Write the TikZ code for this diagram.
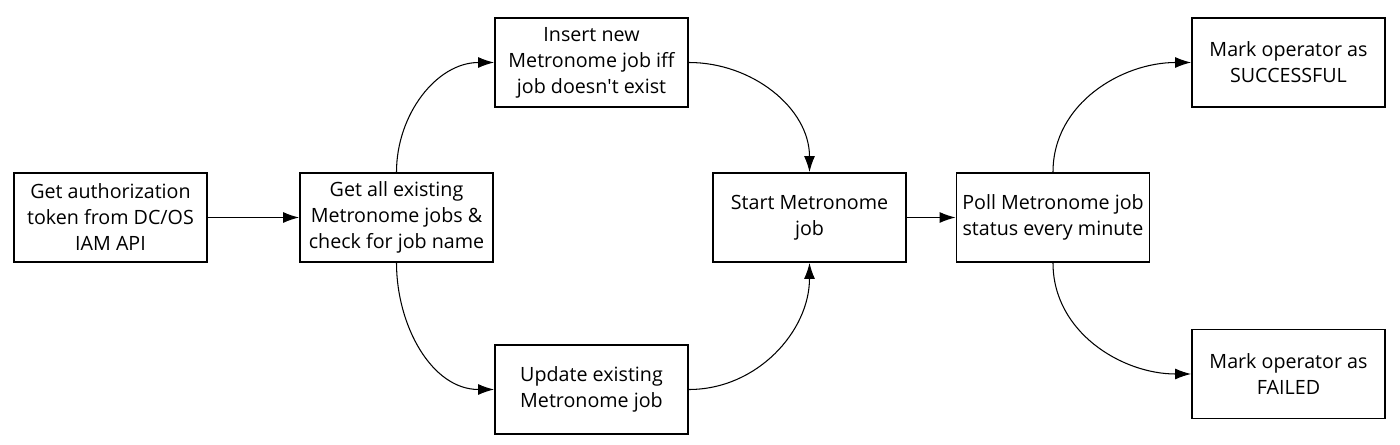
\documentclass[tikz,border=0pt]{standalone}
\usepackage{fontspec}
\setmainfont{Open Sans}
\usetikzlibrary{arrows.meta}

\begin{document}
\begin{tikzpicture}[x=0.02cm, y=-0.02cm, line width=1.1pt,
	stepbox/.style={draw, rectangle, minimum width=3.86cm, minimum height=1.78cm,
		align=center, inner sep=2pt, font=\fontsize{11.2}{14.8}\selectfont},
	flow/.style={line width=0.6pt, -{Latex[length=3.2mm, width=2.2mm]}}]

	\useasboundingbox (0,0) rectangle (1400,445);

	\node[stepbox] (token)  at ( 110.5, 217.5) {Get authorization\\token from DC/OS\\IAM API};
	\node[stepbox] (jobs)   at ( 396.5, 217.5) {Get all existing\\Metronome jobs \&\\check for job name};
	\node[stepbox] (insert) at ( 591.5,  62.5) {Insert new\\Metronome job iff\\job doesn\textquotesingle t exist};
	\node[stepbox] (update) at ( 591.5, 389.5) {Update existing\\Metronome job};
	\node[stepbox] (start)  at ( 809.5, 217.5) {Start Metronome\\job};
	\node[stepbox] (poll)   at (1053.0, 217.5) {Poll Metronome job\\status every minute};
	\node[stepbox] (done)   at (1288.5,  62.5) {Mark operator as\\SUCCESSFUL};
	\node[stepbox] (failed) at (1288.5, 374.0) {Mark operator as\\FAILED};

	\draw[flow] (token) -- (jobs);
	\draw[flow] (jobs.north) to[out=90, in=180] (insert.west);
	\draw[flow] (jobs.south) to[out=-90, in=180] (update.west);
	\draw[flow] (insert.east) to[out=0, in=90] (start.north);
	\draw[flow] (update.east) to[out=0, in=-90] (start.south);
	\draw[flow] (start) -- (poll);
	\draw[flow] (poll.north) to[out=90, in=180] (done.west);
	\draw[flow] (poll.south) to[out=-90, in=180] (failed.west);

\end{tikzpicture}
\end{document}
